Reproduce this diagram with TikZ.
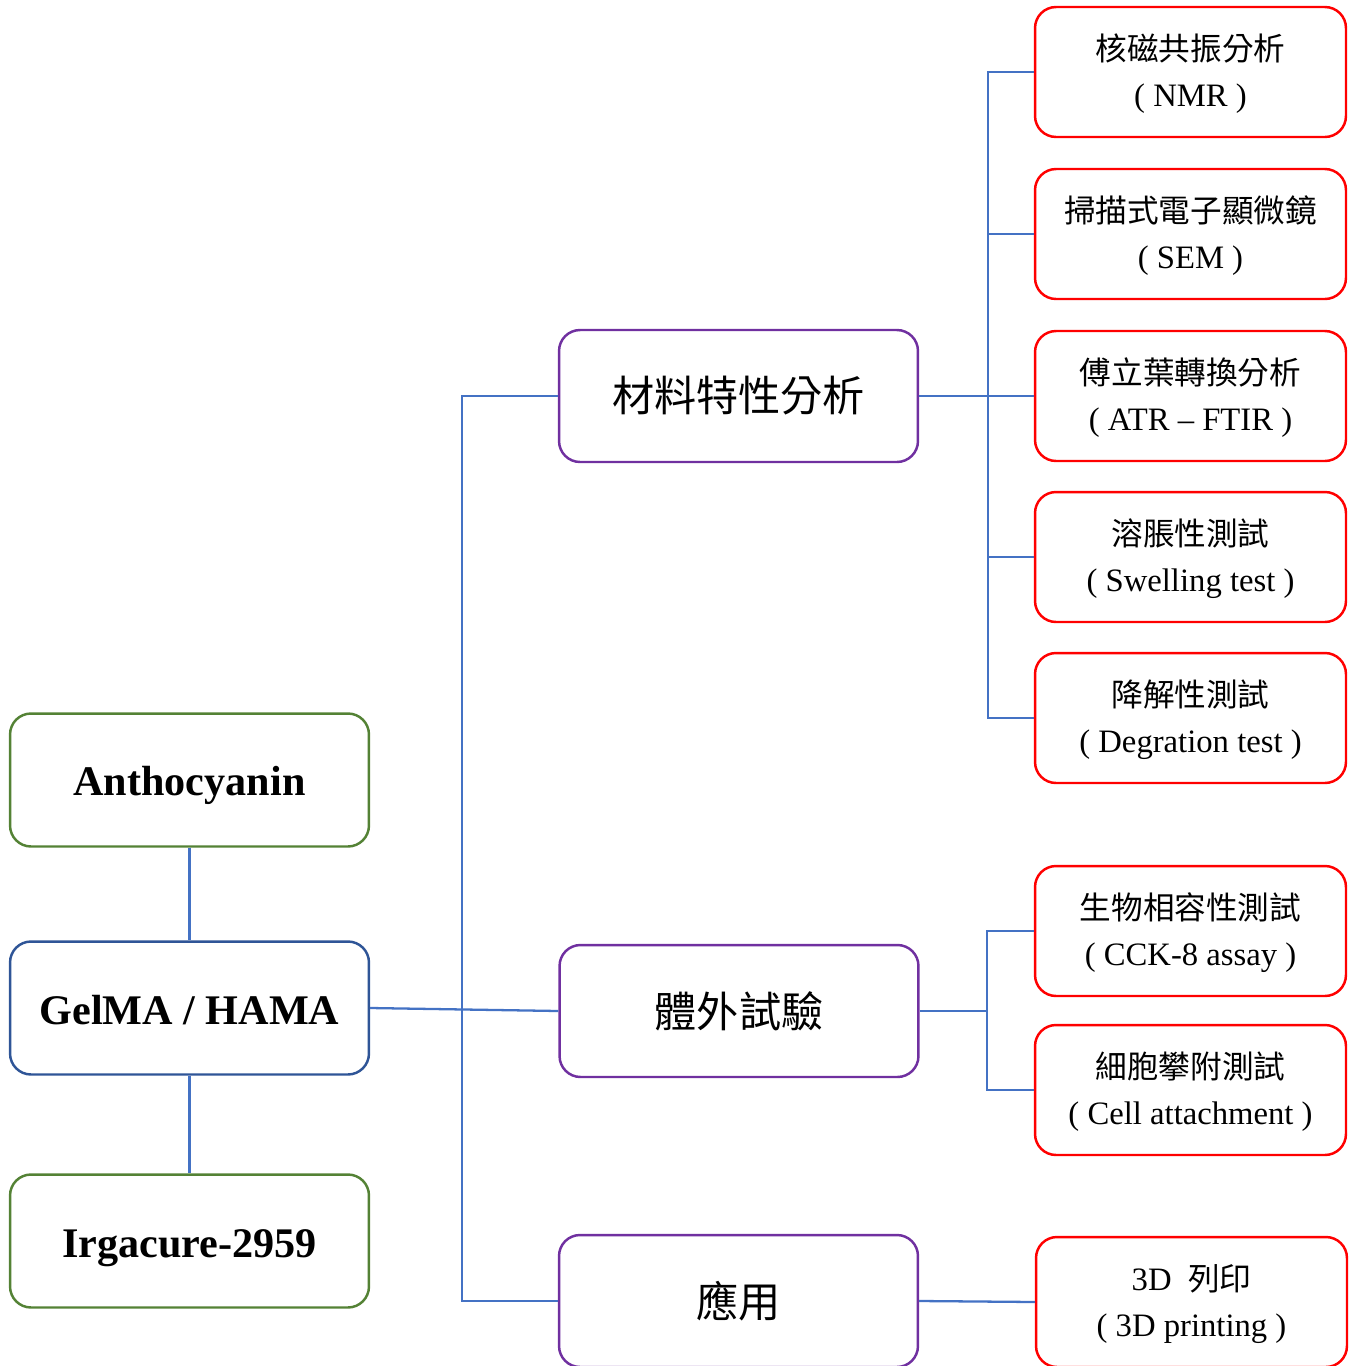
\documentclass[tikz,border=0pt]{standalone}
\usepackage{fontspec}
\setmainfont{Liberation Serif}
\newfontfamily\cjk{Noto Sans CJK TC}
\definecolor{leafgreen}{HTML}{548235}
\definecolor{deepblue}{HTML}{2F5597}
\definecolor{linkblue}{HTML}{4472C4}
\definecolor{matpurple}{HTML}{7030A0}
\begin{document}
\begin{tikzpicture}[x=0.02cm, y=-0.02cm,
	box/.style = {draw, line width=1.4pt, rounded corners=0.42cm, fill=white, inner sep=0pt, align=center},
	basebox/.style = {box, minimum width=7.18cm, minimum height=2.66cm, text height=18.2pt, text depth=0pt, font=\fontsize{24}{28}\selectfont\bfseries},
	groupbox/.style = {box, draw=matpurple, minimum width=7.18cm, minimum height=2.64cm, font=\fontsize{24}{28}\selectfont\cjk},
	testbox/.style = {box, draw=red, minimum width=6.22cm, minimum height=2.6cm, text height=39.8pt, text depth=0pt, font=\fontsize{18.6}{26.3}\selectfont},
	link/.style = {draw=linkblue, line width=1.3pt}]
	\useasboundingbox (0,0) rectangle (1354,1366);
	\node [basebox, draw=leafgreen] (ant) at (189.5,780) {Anthocyanin};
	\node [basebox, draw=deepblue] (gel) at (189.5,1008) {GelMA / HAMA};
	\node [basebox, draw=leafgreen] (irg) at (189.5,1241) {Irgacure-2959};
	\node [groupbox] (mat) at (738.5,396) {材料特性分析};
	\node [groupbox] (vit) at (739,1011) {體外試驗};
	\node [groupbox] (app) at (738.5,1301) {應用};
	\node [testbox] (nmr) at (1190.5,72) {{\cjk\fontsize{18}{26.3}\selectfont 核磁共振分析}\\( NMR )};
	\node [testbox] (sem) at (1190.5,234) {{\cjk\fontsize{18}{26.3}\selectfont 掃描式電子顯微鏡}\\( SEM )};
	\node [testbox] (ftir) at (1190.5,396) {{\cjk\fontsize{18}{26.3}\selectfont 傅立葉轉換分析}\\( ATR -- FTIR )};
	\node [testbox] (swl) at (1190.5,557) {{\cjk\fontsize{18}{26.3}\selectfont 溶脹性測試}\\( Swelling test )};
	\node [testbox] (deg) at (1190.5,718) {{\cjk\fontsize{18}{26.3}\selectfont 降解性測試}\\( Degration test )};
	\node [testbox] (cck) at (1190.5,931) {{\cjk\fontsize{18}{26.3}\selectfont 生物相容性測試}\\( CCK-8 assay )};
	\node [testbox] (cell) at (1190.5,1090) {{\cjk\fontsize{18}{26.3}\selectfont 細胞攀附測試}\\( Cell attachment )};
	\node [testbox] (prt) at (1191.5,1302) {3D\ \ {\cjk\fontsize{18}{26.3}\selectfont 列印}\\( 3D printing )};
	\coordinate (t1) at (462,0);
	\coordinate (b1) at (988,0);
	\coordinate (b2) at (987,0);
	\draw [link] (ant) -- (gel);
	\draw [link] (gel) -- (irg);
	\draw [link] (gel.east) -- (vit.west);
	\draw [link] (mat.west) -- (mat.west -| t1) -- (app.west -| t1) -- (app.west);
	\draw [link] (mat.east) -- (ftir.west);
	\draw [link] (nmr.west) -- (nmr.west -| b1) -- (deg.west -| b1) -- (deg.west);
	\foreach \n in {sem, swl}
		\draw [link] (\n.west -| b1) -- (\n.west);
	\draw [link] (vit.east) -- (vit.east -| b2);
	\draw [link] (cck.west) -- (cck.west -| b2) -- (cell.west -| b2) -- (cell.west);
	\draw [link] (app.east) -- (prt.west);
\end{tikzpicture}
\end{document}
